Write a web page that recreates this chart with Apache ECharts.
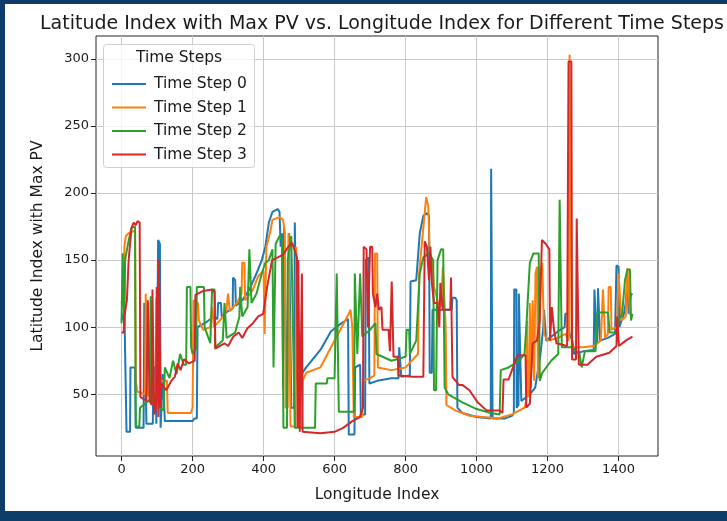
<!DOCTYPE html>
<html>
<head>
<meta charset="utf-8">
<script src="https://cdn.jsdelivr.net/npm/echarts@6/dist/echarts.min.js"></script>
<style>
  html, body { margin: 0; padding: 0; background: #fff; }
  #chart { width: 727px; height: 521px; }
</style>
</head>
<body>
<div id="chart"></div>
<script>
const seriesNames = ['Time Step 0', 'Time Step 1', 'Time Step 2', 'Time Step 3']
const colors = ['#1f77b4', '#ff7f0e', '#2ca02c', '#d62728']
const xTicks = [0, 200, 400, 600, 800, 1000, 1200, 1400]
const yTicks = [50, 100, 150, 200, 250, 300]

// [longitude index, latitude index]
const step0 = [
  [0, 105], [8, 112], [12, 112], [14, 22], [24, 22], [25, 70], [38, 70], [40, 25], [62, 25],
  [64, 118], [68, 118], [70, 28], [88, 28], [90, 70], [96, 70], [98, 28], [102, 28], [103, 165],
  [108, 162], [110, 25], [114, 25], [116, 65], [120, 65], [122, 30], [200, 30], [205, 32],
  [212, 32], [214, 100], [240, 104], [260, 108], [270, 106], [272, 118], [280, 118], [282, 108],
  [300, 112], [313, 114], [314, 137], [320, 135], [322, 116], [340, 120], [360, 128], [380, 140],
  [395, 150], [405, 160], [415, 178], [425, 186], [440, 188], [445, 186], [448, 160], [452, 170],
  [455, 55], [458, 175], [462, 175], [465, 40], [470, 40], [472, 170], [476, 170], [478, 40],
  [486, 40], [488, 178], [492, 178], [494, 60], [520, 70], [560, 83], [590, 97], [620, 103],
  [638, 106], [640, 20], [656, 20], [658, 70], [672, 72], [674, 35], [686, 35], [688, 150],
  [696, 152], [698, 58], [720, 60], [760, 62], [780, 62], [782, 85], [786, 85], [788, 63],
  [812, 64], [814, 134], [830, 135], [840, 170], [850, 183], [860, 185], [866, 183], [868, 66],
  [874, 66], [876, 113], [930, 113], [932, 122], [940, 122], [944, 120], [946, 40], [960, 36],
  [1000, 33], [1040, 32], [1041, 218], [1044, 218], [1045, 32], [1080, 32], [1100, 34],
  [1105, 36], [1106, 128], [1112, 128], [1113, 40], [1118, 42], [1119, 125], [1124, 125],
  [1126, 45], [1150, 50], [1165, 55], [1180, 80], [1188, 100], [1190, 113], [1194, 112],
  [1196, 90], [1230, 97], [1248, 100], [1250, 110], [1258, 110], [1262, 95], [1270, 90],
  [1275, 80], [1300, 82], [1330, 83], [1332, 128], [1336, 128], [1338, 88], [1340, 90],
  [1342, 129], [1346, 129], [1348, 90], [1370, 92], [1390, 95], [1394, 146], [1400, 145],
  [1402, 100], [1415, 110], [1420, 118], [1425, 136], [1428, 110], [1435, 125], [1439, 124]
]

const step1 = [
  [0, 118], [6, 125], [8, 160], [12, 168], [20, 170], [38, 172], [40, 60], [44, 52], [66, 50],
  [68, 125], [72, 125], [74, 50], [80, 48], [82, 118], [86, 118], [88, 45], [96, 45], [98, 122],
  [100, 122], [102, 45], [110, 44], [112, 60], [128, 60], [130, 36], [195, 36], [200, 40],
  [203, 120], [215, 118], [218, 105], [230, 98], [250, 100], [255, 115], [260, 100], [280, 106],
  [295, 112], [300, 125], [305, 112], [325, 118], [338, 125], [340, 148], [346, 148], [348, 120],
  [370, 128], [385, 138], [400, 142], [403, 95], [406, 95], [408, 160], [418, 170], [425, 180],
  [445, 182], [455, 180], [460, 170], [462, 40], [468, 40], [470, 170], [474, 170], [476, 26],
  [490, 26], [492, 160], [496, 160], [498, 26], [508, 26], [510, 60], [520, 66], [560, 70],
  [590, 85], [620, 100], [640, 110], [645, 113], [650, 100], [654, 33], [678, 33], [680, 60],
  [700, 62], [712, 64], [714, 155], [720, 155], [722, 70], [760, 68], [800, 70], [835, 80],
  [838, 140], [845, 160], [852, 180], [858, 197], [864, 190], [868, 155], [875, 150], [880, 130],
  [890, 120], [900, 115], [905, 145], [910, 145], [913, 100], [915, 42], [940, 38], [980, 34],
  [1020, 33], [1060, 32], [1100, 35], [1135, 40], [1140, 45], [1142, 105], [1144, 48],
  [1148, 50], [1150, 118], [1153, 55], [1158, 120], [1162, 60], [1166, 140], [1170, 145],
  [1173, 62], [1175, 70], [1178, 135], [1180, 142], [1185, 148], [1190, 95], [1200, 90],
  [1230, 92], [1250, 95], [1260, 90], [1262, 303], [1266, 303], [1268, 85], [1300, 85],
  [1330, 86], [1350, 90], [1356, 128], [1360, 128], [1362, 92], [1370, 95], [1372, 130],
  [1378, 130], [1380, 98], [1395, 100], [1400, 140], [1405, 140], [1408, 105], [1420, 108],
  [1425, 144], [1430, 144], [1432, 110], [1439, 108]
]

const step2 = [
  [0, 103], [3, 155], [6, 155], [8, 100], [10, 150], [18, 162], [28, 174], [38, 175], [40, 26],
  [50, 26], [52, 40], [80, 46], [82, 123], [86, 123], [88, 42], [100, 45], [102, 110], [106, 110],
  [108, 40], [118, 38], [122, 70], [135, 62], [145, 75], [155, 65], [165, 80], [175, 72],
  [182, 72], [184, 130], [194, 130], [196, 85], [200, 80], [210, 84], [212, 130], [232, 130],
  [234, 100], [250, 88], [255, 128], [262, 128], [264, 85], [285, 90], [290, 118], [294, 118],
  [296, 92], [320, 96], [332, 108], [334, 130], [338, 130], [340, 108], [355, 115], [360, 158],
  [364, 158], [366, 118], [380, 125], [395, 140], [405, 148], [415, 150], [425, 158], [428, 70],
  [432, 70], [434, 162], [445, 168], [452, 165], [456, 25], [466, 25], [468, 150], [478, 168],
  [482, 168], [488, 25], [545, 25], [547, 58], [578, 58], [580, 62], [600, 62], [606, 140],
  [610, 140], [612, 37], [655, 37], [657, 140], [662, 140], [664, 80], [672, 140], [676, 140],
  [678, 93], [700, 98], [715, 103], [718, 80], [760, 75], [800, 78], [803, 98], [810, 98],
  [812, 80], [830, 90], [840, 140], [850, 152], [865, 155], [878, 150], [880, 53], [886, 53],
  [890, 150], [900, 158], [906, 158], [910, 55], [920, 50], [960, 44], [1000, 39], [1040, 36],
  [1065, 35], [1068, 68], [1090, 70], [1120, 75], [1135, 80], [1140, 100], [1150, 148],
  [1160, 155], [1175, 155], [1178, 60], [1185, 66], [1210, 75], [1230, 80], [1234, 195],
  [1238, 195], [1240, 85], [1270, 85], [1290, 80], [1296, 70], [1300, 70], [1305, 82],
  [1335, 82], [1340, 111], [1370, 111], [1375, 96], [1395, 96], [1400, 105], [1410, 110],
  [1418, 135], [1425, 143], [1432, 143], [1435, 105], [1439, 110]
]

const step3 = [
  [0, 96], [6, 96], [8, 108], [15, 120], [20, 150], [28, 174], [34, 178], [40, 176], [45, 179],
  [51, 178], [53, 48], [70, 45], [74, 120], [77, 120], [79, 45], [85, 42], [87, 128], [90, 128],
  [92, 35], [97, 40], [99, 130], [102, 130], [104, 33], [105, 150], [108, 150], [110, 40],
  [112, 58], [126, 53], [140, 60], [150, 63], [158, 73], [166, 68], [176, 76], [190, 73],
  [206, 75], [208, 124], [230, 127], [255, 128], [262, 126], [264, 84], [290, 88], [300, 86],
  [315, 93], [330, 96], [340, 92], [354, 99], [370, 103], [385, 108], [399, 110], [410, 130],
  [424, 150], [440, 152], [455, 154], [470, 160], [480, 163], [488, 157], [494, 152], [496, 25],
  [498, 150], [500, 150], [502, 22], [506, 22], [508, 140], [510, 22], [560, 21], [600, 22],
  [624, 25], [650, 30], [671, 33], [680, 40], [682, 160], [690, 158], [694, 100], [698, 100],
  [700, 160], [706, 160], [708, 125], [715, 115], [720, 125], [725, 113], [732, 115], [735, 98],
  [752, 98], [756, 82], [760, 82], [761, 134], [764, 134], [766, 78], [778, 78], [780, 64],
  [820, 63], [850, 63], [854, 164], [860, 160], [866, 135], [870, 160], [874, 133], [880, 118],
  [890, 118], [895, 100], [898, 133], [902, 133], [905, 113], [926, 113], [928, 137], [930, 137],
  [932, 63], [950, 57], [960, 57], [980, 53], [1003, 44], [1028, 38], [1065, 38], [1073, 36],
  [1076, 61], [1090, 61], [1115, 79], [1138, 79], [1140, 40], [1150, 43], [1158, 88], [1170, 90],
  [1178, 105], [1183, 105], [1184, 165], [1195, 162], [1205, 158], [1207, 90], [1212, 115],
  [1218, 98], [1225, 88], [1255, 86], [1259, 298], [1267, 298], [1269, 76], [1280, 76],
  [1282, 181], [1286, 181], [1288, 72], [1312, 72], [1337, 78], [1374, 81], [1394, 86],
  [1396, 108], [1399, 108], [1401, 86], [1420, 90], [1439, 93]
]

const allSteps = [step0, step1, step2, step3]
const font = 'DejaVu Sans'
const textColor = '#1a1a1a'
const navy = '#0d3c69'

const chart = echarts.init(document.getElementById('chart'), null, { renderer: 'canvas' })

chart.setOption({
  animation: false,
  color: colors,
  textStyle: { fontFamily: font },
  title: {
    text: 'Latitude Index with Max PV vs. Longitude Index for Different Time Steps',
    left: 377,
    top: 10,
    textAlign: 'center',
    textStyle: { fontFamily: font, fontSize: 19, fontWeight: 'normal', color: textColor },
  },
  grid: { left: 96, right: 69, top: 36, bottom: 65, show: true, borderColor: '#222', borderWidth: 1, backgroundColor: '#fff' },
  legend: {
    orient: 'vertical',
    left: 107,
    top: 71,
    z: 6,
    itemWidth: 34,
    itemHeight: 2,
    itemGap: 7.5,
    icon: 'rect',
    data: seriesNames,
    textStyle: { fontFamily: font, fontSize: 15.5, lineHeight: 16, color: textColor, padding: [0, 0, 0, 3] },
  },
  xAxis: {
    type: 'value',
    min: -72,
    max: 1511,
    name: 'Longitude Index',
    nameLocation: 'middle',
    nameGap: 31,
    nameTextStyle: { fontFamily: font, fontSize: 15.5, color: textColor },
    axisLine: { show: false, onZero: false },
    axisTick: { show: true, length: 5, customValues: xTicks, lineStyle: { color: '#222' } },
    axisLabel: {
      customValues: xTicks, fontFamily: font, fontSize: 13, color: textColor, margin: 7,
      formatter: (v) => String(v),
    },
    splitLine: { show: true, lineStyle: { color: '#c9c9c9', width: 1 } },
  },
  yAxis: {
    type: 'value',
    min: 4,
    max: 317,
    name: 'Latitude Index with Max PV',
    nameLocation: 'middle',
    nameRotate: 90,
    nameGap: 50,
    nameTextStyle: { fontFamily: font, fontSize: 15.5, color: textColor },
    axisLine: { show: false, onZero: false },
    axisTick: { show: true, length: 5, customValues: yTicks, lineStyle: { color: '#222' } },
    axisLabel: {
      customValues: yTicks, fontFamily: font, fontSize: 13, color: textColor, margin: 7,
      formatter: (v) => String(v),
    },
    splitLine: { show: true, lineStyle: { color: '#c9c9c9', width: 1 } },
  },
  graphic: [
    { type: 'rect', left: 0, top: 0, shape: { width: 727, height: 4 }, style: { fill: navy }, z: 100 },
    { type: 'rect', left: 0, top: 0, shape: { width: 5, height: 521 }, style: { fill: navy }, z: 100 },
    { type: 'rect', left: 0, top: 511, shape: { width: 727, height: 10 }, style: { fill: navy }, z: 100 },
    {
      type: 'rect', left: 103, top: 44, z: 3,
      shape: { width: 151, height: 123, r: 3 },
      style: { fill: 'rgba(255,255,255,0.8)', stroke: '#d0d0d0', lineWidth: 1 },
    },
    {
      type: 'text', x: 179, y: 58, z: 5,
      style: {
        text: 'Time Steps', fill: textColor, font: '15.5px "DejaVu Sans"',
        textAlign: 'center', textVerticalAlign: 'middle',
      },
    },
  ],
  series: allSteps.map((data, i) => ({
    name: seriesNames[i],
    type: 'line',
    data,
    showSymbol: false,
    symbol: 'none',
    lineStyle: { width: 2 },
    emphasis: { disabled: true },
  })),
})
</script>
</body>
</html>
